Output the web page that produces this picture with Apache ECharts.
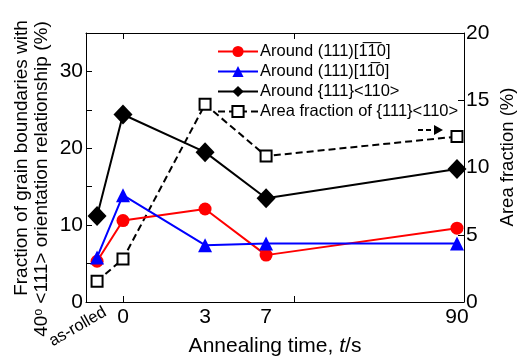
<!DOCTYPE html>
<html><head><meta charset="utf-8">
<script src="https://cdn.jsdelivr.net/npm/echarts@6/dist/echarts.min.js"></script>
<style>html,body{margin:0;padding:0;background:#fff}#c{width:518px;height:362px}</style>
</head><body><div id="c"></div>
<script>
const categories = ['as-rolled', '0', '3', '7', '90'];
const xPos = [0.41, 1.37, 4.41, 6.67, 13.74];
const xTickPos = [1.37, 7.7];
const aroundA = [5.3, 10.6, 12.1, 6.1, 9.6];
const aroundB = [5.8, 13.9, 7.4, 7.6, 7.6];
const around111 = [11.2, 24.4, 19.5, 13.5, 17.3];
const areaFraction = [1.55, 3.2, 14.7, 10.85, 12.3];
const leftTicks = [0, 10, 20, 30];
const rightTicks = [0, 5, 10, 15, 20];
const names = ['Around (111)[1\u03051\u03050]', 'Around (111)[11\u03050]', 'Around {111}<110>', 'Area fraction of {111}<110>'];

const FONT = 'Liberation Sans, Arial, sans-serif';
const pts = arr => arr.map((v, i) => [xPos[i], v]);
const chart = echarts.init(document.getElementById('c'));
const tickStyle = {lineStyle: {color: '#000', width: 1}};
chart.setOption({
  animation: false,
  textStyle: {fontFamily: FONT},
  grid: {left: 86, right: 54, top: 33, bottom: 58},
  legend: {
    orient: 'vertical', left: 212, top: 38, itemGap: 3, itemWidth: 40, itemHeight: 14,
    textStyle: {fontSize: 16.5, color: '#000', fontFamily: FONT, padding: [0, 0, 0, -3]},
    data: names
  },
  xAxis: [
    {type: 'value', min: 0, max: 14, position: 'bottom',
     axisLine: {onZero: false, lineStyle: {color: '#000', width: 1}},
     splitLine: {show: false},
     axisTick: {inside: true, length: 6, customValues: xTickPos, ...tickStyle},
     axisLabel: {customValues: xPos.slice(1), fontSize: 21, color: '#000', margin: 5,
       formatter: v => { const i = xPos.indexOf(v); return i >= 0 ? categories[i] : ''; }},
     name: 'Annealing time, {i|t}/s', nameLocation: 'middle', nameGap: 34,
     nameTextStyle: {fontSize: 21, color: '#000', rich: {i: {fontStyle: 'italic', fontSize: 21}}}
    },
    {type: 'value', min: 0, max: 14, position: 'top',
     axisLine: {onZero: false, lineStyle: {color: '#000'}}, splitLine: {show: false},
     axisTick: {inside: true, length: 6, customValues: xTickPos, ...tickStyle},
     axisLabel: {show: false}},
    {type: 'value', min: 0, max: 14, position: 'bottom',
     axisLine: {show: false, onZero: false}, splitLine: {show: false}, axisTick: {show: false},
     axisLabel: {customValues: [xPos[0] + 0.3], rotate: 30, fontSize: 16.5, color: '#000', margin: 9,
       formatter: () => categories[0]}}
  ],
  yAxis: [
    {type: 'value', min: 0, max: 35, interval: 10,
     axisLine: {show: true, onZero: false, lineStyle: {color: '#000'}}, splitLine: {show: false},
     axisTick: {inside: true, length: 6, customValues: [0, 5, 10, 15, 20, 25, 30], ...tickStyle},
     axisLabel: {customValues: leftTicks, fontSize: 21, color: '#000', margin: 3}
    },
    {type: 'value', min: 0, max: 20, interval: 5, position: 'right',
     axisLine: {show: true, onZero: false, lineStyle: {color: '#000'}}, splitLine: {show: false},
     axisTick: {inside: true, length: 6, ...tickStyle},
     axisLabel: {customValues: rightTicks, fontSize: 21, color: '#000', margin: 2}
    }
  ],
  series: [
    {name: names[0], type: 'line', data: pts(aroundA), symbol: 'circle', symbolSize: 13,
     itemStyle: {color: '#ff0000'}, lineStyle: {color: '#ff0000', width: 2}, z: 3},
    {name: names[1], type: 'line', data: pts(aroundB), symbol: 'triangle', symbolSize: 14,
     itemStyle: {color: '#0000ff'}, lineStyle: {color: '#0000ff', width: 2}, z: 4},
    {name: names[2], type: 'line', data: pts(around111), symbol: 'diamond', symbolSize: [19, 20],
     itemStyle: {color: '#000'}, lineStyle: {color: '#000', width: 2}, z: 5},
    {name: names[3], type: 'line', yAxisIndex: 1, data: pts(areaFraction), symbol: 'rect', symbolSize: 11,
     itemStyle: {color: '#fff', borderColor: '#000', borderWidth: 2},
     lineStyle: {color: '#000', width: 2, type: [7, 4]}, z: 2}
  ],
  graphic: [
    {type: 'text', x: 22, y: 158, rotation: Math.PI / 2,
     style: {text: 'Fraction of grain boundaries with', font: '19px ' + FONT, fill: '#000', align: 'center', verticalAlign: 'middle'}},
    {type: 'text', x: 42, y: 179, rotation: Math.PI / 2,
     style: {text: '40{s|o} <111> orientation relationship (%)', font: '19px ' + FONT, fill: '#000', align: 'center', verticalAlign: 'middle',
       rich: {s: {font: '12px ' + FONT, verticalAlign: 'top', fill: '#000'}}}},
    {type: 'text', x: 508, y: 157, rotation: Math.PI / 2,
     style: {text: 'Area fraction (%)', font: '18.5px ' + FONT, fill: '#000', align: 'center', verticalAlign: 'middle'}},
    {type: 'line', shape: {x1: 418, y1: 130, x2: 436, y2: 130},
     style: {stroke: '#000', lineWidth: 2, lineDash: [5, 3]}},
    {type: 'polygon', shape: {points: [[434, 125], [443, 130], [434, 135]]}, style: {fill: '#000'}}
  ]
});
</script></body></html>
